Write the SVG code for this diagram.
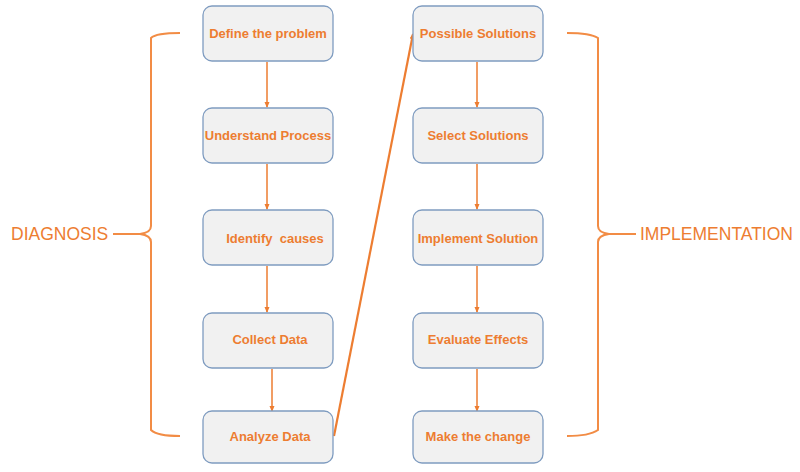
<svg xmlns="http://www.w3.org/2000/svg" width="800" height="472" viewBox="0 0 800 472">
<style>
.box{fill:#F1F1F1;stroke:#7F9CC0;stroke-width:1.3}
.lbl{font-family:"Liberation Sans",Arial,sans-serif;font-weight:bold;font-size:13px;fill:#ED7D31;text-anchor:middle}
.side{font-family:"Liberation Sans",Arial,sans-serif;font-size:17.5px;fill:#ED7D31}
.con{stroke:#ED7D31;stroke-width:1.5;fill:none}
.brace{stroke:#F28C45;stroke-width:2;fill:none}
</style>
<defs>
<marker id="ah" markerWidth="6" markerHeight="6" refX="5" refY="3" orient="auto" markerUnits="userSpaceOnUse">
<path d="M0,0.5 L6,3 L0,5.5 Z" fill="#ED7D31"/>
</marker>
</defs>
<rect width="800" height="472" fill="#fff"/>
<g id="connectors">
<line class="con" x1="267" y1="62" x2="267" y2="107" marker-end="url(#ah)"/>
<line class="con" x1="267" y1="164" x2="267" y2="209" marker-end="url(#ah)"/>
<line class="con" x1="267" y1="266" x2="267" y2="312" marker-end="url(#ah)"/>
<line class="con" x1="272" y1="369" x2="272" y2="411" marker-end="url(#ah)"/>
<line class="con" x1="477" y1="62" x2="477" y2="107" marker-end="url(#ah)"/>
<line class="con" x1="477" y1="164" x2="477" y2="209" marker-end="url(#ah)"/>
<line class="con" x1="477" y1="266" x2="477" y2="312" marker-end="url(#ah)"/>
<line class="con" x1="477" y1="369" x2="477" y2="411" marker-end="url(#ah)"/>
<line class="con" style="stroke-width:2.2" x1="334" y1="436" x2="413" y2="34" marker-end="url(#ah)"/>
</g>
<g id="brace-left">
<path class="brace" d="M180,33 C165,33 155,34 151,38 L151,226 C151,230 148,233 140,234 L113,234 M140,234 C148,235 151,238 151,242 L151,430 C155,434 165,436 180,436"/>
<text class="side" x="11" y="240">DIAGNOSIS</text>
</g>
<g id="brace-right">
<path class="brace" d="M567,33 C582,33 592,34 598,38 L598,226 C598,230 601,233 609,234 L636,234 M609,234 C601,235 598,238 598,242 L598,430 C592,434 582,436 567,436"/>
<text class="side" x="640" y="240">IMPLEMENTATION</text>
</g>
<g id="n1"><rect class="box" x="203" y="6" width="130" height="55" rx="9"/><text class="lbl" x="268" y="38">Define the problem</text></g>
<g id="n2"><rect class="box" x="203" y="108" width="130" height="55" rx="9"/><text class="lbl" x="268" y="140">Understand Process</text></g>
<g id="n3"><rect class="box" x="203" y="210" width="130" height="55" rx="9"/><text class="lbl" x="275" y="243" xml:space="preserve">Identify  causes</text></g>
<g id="n4"><rect class="box" x="203" y="313" width="130" height="55" rx="9"/><text class="lbl" x="270" y="344">Collect Data</text></g>
<g id="n5"><rect class="box" x="203" y="411" width="130" height="52" rx="9"/><text class="lbl" x="270" y="441">Analyze Data</text></g>
<g id="n6"><rect class="box" x="413" y="6" width="130" height="55" rx="9"/><text class="lbl" x="478" y="38">Possible Solutions</text></g>
<g id="n7"><rect class="box" x="413" y="108" width="130" height="55" rx="9"/><text class="lbl" x="478" y="140">Select Solutions</text></g>
<g id="n8"><rect class="box" x="413" y="210" width="130" height="55" rx="9"/><text class="lbl" x="478" y="243">Implement Solution</text></g>
<g id="n9"><rect class="box" x="413" y="313" width="130" height="55" rx="9"/><text class="lbl" x="478" y="344">Evaluate Effects</text></g>
<g id="n10"><rect class="box" x="413" y="411" width="130" height="52" rx="9"/><text class="lbl" x="478" y="441">Make the change</text></g>
</svg>
